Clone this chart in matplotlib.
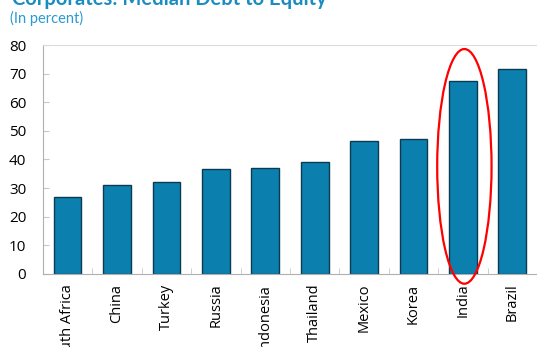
import matplotlib.pyplot as plt
from matplotlib.patches import Ellipse
import numpy as np

countries = ["South Africa", "China", "Turkey", "Russia", "Indonesia",
             "Thailand", "Mexico", "Korea", "India", "Brazil"]
debt_to_equity = [26.8, 31.1, 32.1, 36.7, 37.0, 39.1, 46.5, 47.2, 67.5, 71.7]

plt.rcParams['font.family'] = ['Open Sans', 'DejaVu Sans']

fig = plt.figure(figsize=(5.37, 3.47), dpi=100)
ax = fig.add_axes([0.080, 0.2104, 0.92, 0.6599])

x = np.arange(len(countries))
ax.bar(x, debt_to_equity, width=0.56, color="#0b80ae",
       edgecolor="#0c3a50", linewidth=1.0, zorder=2)

ax.set_xlim(-0.5, 9.38)
ax.set_ylim(0, 80)
ax.set_yticks(np.arange(0, 81, 10))
ax.set_xticks(x)
ax.set_xticklabels(countries, rotation=90, fontsize=10.5)
ax.tick_params(axis="x", length=0, pad=7)
ax.set_xticks(np.arange(len(countries)) + 0.5, minor=True)
ax.tick_params(axis="x", which="minor", direction="in", length=4,
               color="#c8c8c8")
ax.tick_params(axis="y", direction="in", length=4, color="#c8c8c8",
               labelsize=11, pad=12)

for side in ["left", "bottom"]:
    ax.spines[side].set_color("#b0b0b0")
ax.spines["top"].set_color("#dcdcdc")
ax.spines["right"].set_visible(False)

# highlight India
ax.add_patch(Ellipse((8.03, 37.6), 1.1, 82, fill=False, edgecolor="red",
                     linewidth=1.6, clip_on=False, zorder=3))

fig.text(0.022, 0.986, "Corporates: Median Debt to Equity", fontsize=14.5,
         fontweight="bold", color="#1b8cc0", va="baseline",
         family=["Lato", "DejaVu Sans"])
fig.text(0.018, 0.935, "(In percent)", fontsize=10.5, color="#2a9ad0",
         va="baseline", family=["Lato", "DejaVu Sans"])

fig.savefig("out.png", dpi=100)
